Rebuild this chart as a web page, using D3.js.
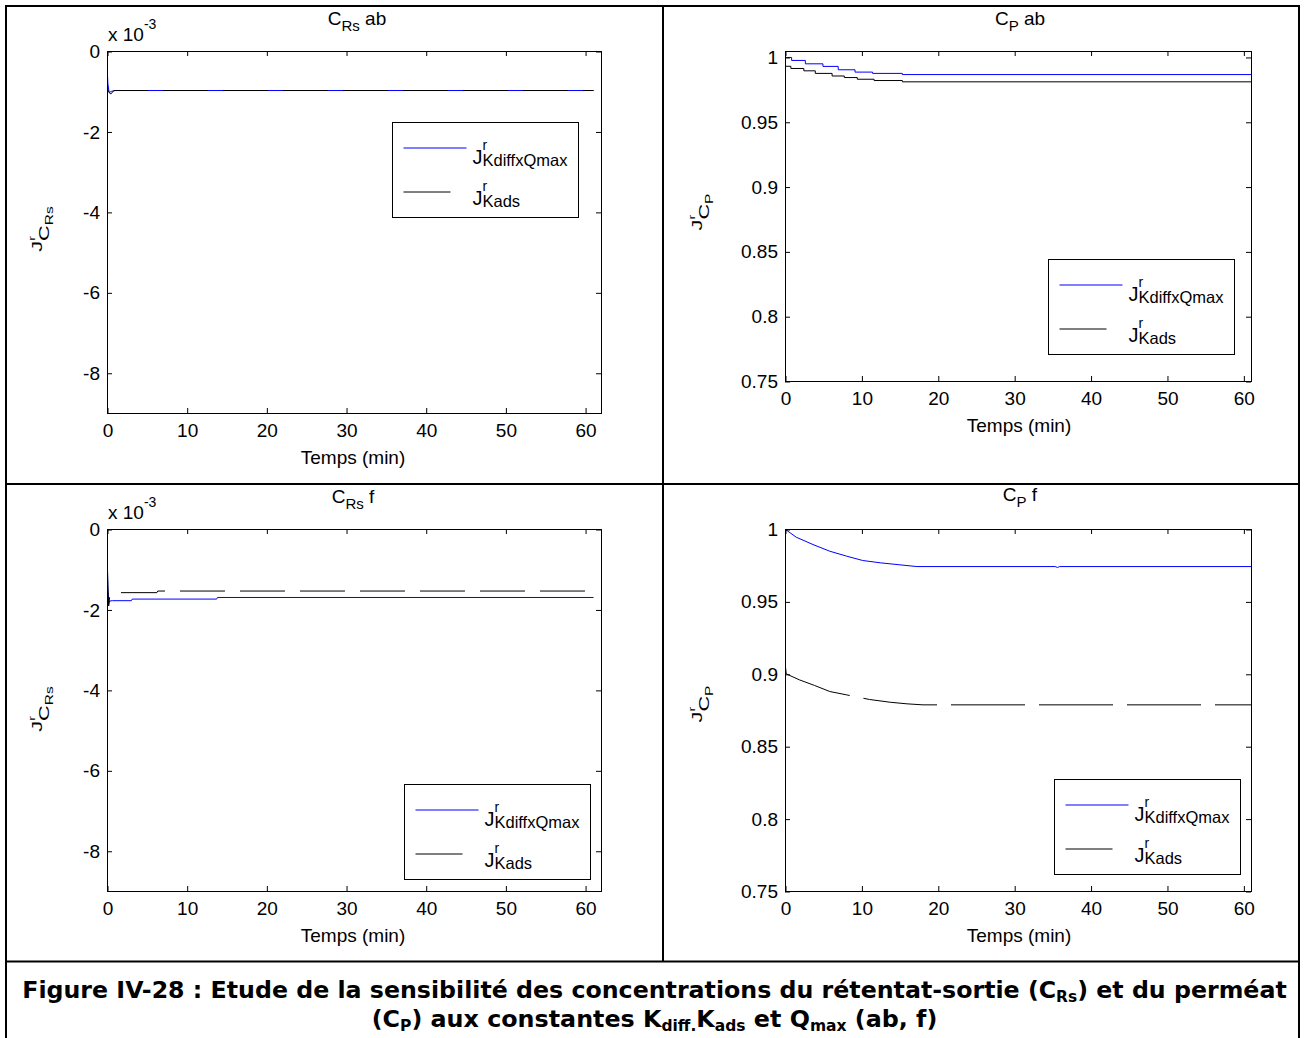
<!DOCTYPE html>
<html><head><meta charset="utf-8">
<script src="https://cdn.jsdelivr.net/npm/d3@7"></script>
<style>body{margin:0;background:#fff} svg{display:block}</style>
</head><body><svg id="c" width="1305" height="1038"></svg>
<script>
// ---------- tick values / labels ----------
const xTicks = [0, 10, 20, 30, 40, 50, 60];
const xTickLabels = ["0", "10", "20", "30", "40", "50", "60"];
const yTicksRs = [0, -2, -4, -6, -8];
const yTickLabelsRs = ["0", "-2", "-4", "-6", "-8"];
const yTicksP = [0.75, 0.8, 0.85, 0.9, 0.95, 1];
const yTickLabelsP = ["0.75", "0.8", "0.85", "0.9", "0.95", "1"];
const seriesNames = ["KdiffxQmax", "Kads"];

// ---------- C_Rs ab  (values x 10^-3) ----------
const rsAbBlueT  = [0, 0.05, 0.2, 0.5, 1.0, 61];
const rsAbBlueV  = [-0.6, -0.8, -1.02, -0.99, -0.97, -0.97];
const rsAbBlackT = [0, 0.15, 0.4, 0.8, 61];
const rsAbBlackV = [-0.93, -1.0, -1.06, -0.97, -0.97];

// ---------- C_P ab ----------
const pAbBlueT  = [0, 0.8, 2.6, 4.9, 6.9, 9.1, 11.4, 15.3, 61];
const pAbBlueV  = [1.0, 0.9977, 0.9951, 0.9931, 0.9905, 0.9887, 0.9877, 0.9868, 0.9868];
const pAbBlackT = [0, 0.7, 2.4, 3.9, 6.1, 7.7, 9.4, 11.6, 15.3, 61];
const pAbBlackV = [0.9932, 0.9915, 0.9897, 0.9877, 0.9857, 0.9845, 0.9832, 0.9822, 0.9812, 0.9812];

// ---------- C_Rs f  (values x 10^-3) ----------
const rsFBlueT  = [0, 0.05, 0.15, 0.25, 0.6, 3.0, 3.1, 13.7, 13.8, 61];
const rsFBlueV  = [-1.06, -1.5, -1.84, -1.78, -1.77, -1.77, -1.73, -1.73, -1.69, -1.69];
const rsFBlackT = [0, 0.05, 0.15, 0.3, 0.5, 0.6, 6.2, 6.3, 61];
const rsFBlackV = [-1.0, -1.4, -1.9, -1.62, -1.62, -1.57, -1.57, -1.53, -1.53];

// ---------- C_P f ----------
const pFBlueT  = [0, 1.4, 3.6, 5.8, 8.0, 10.1, 12.4, 14.6, 17.2, 35.3, 35.6, 35.9, 61];
const pFBlueV  = [1.0, 0.9947, 0.9896, 0.985, 0.9816, 0.9786, 0.977, 0.9758, 0.9744, 0.9744, 0.9738, 0.9744, 0.9744];
const pFBlackT = [0, 0.1, 1.8, 3.8, 5.8, 8.0, 11.0, 13.7, 15.9, 18.0, 61];
const pFBlackV = [0.9049, 0.9003, 0.8962, 0.8923, 0.8881, 0.8858, 0.8826, 0.8807, 0.8796, 0.8789, 0.8789];

const FONT = "'Liberation Sans', Arial, sans-serif";
const BLUE = "#0000ff";

const panels = [
  {x0:107.5, x1:601.5, y0:51.5, y1:413.5, xMax:62, yDom:[-9,0], yTicks:yTicksRs, yLabels:yTickLabelsRs, exp:{x:108,y:41},
   title:{x:357, y:25, sub:"Rs", rest:" ab"}, xlab:{x:353, y:464}, ylab:{x:42, y:229, sub:"Rs"}, legend:{x:392.5, y:122.5},
   lines:[{t:rsAbBlueT, v:rsAbBlueV, c:BLUE, dash:null, curve:d3.curveLinear},
          {t:rsAbBlackT, v:rsAbBlackV, c:"#000", dash:"45,15", curve:d3.curveLinear}]},
  {x0:785.5, x1:1251.5, y0:51.5, y1:381.5, xMax:61, yDom:[0.75,1.0046], yTicks:yTicksP, yLabels:yTickLabelsP, exp:null,
   title:{x:1020, y:25, sub:"P", rest:" ab"}, xlab:{x:1019, y:432}, ylab:{x:702, y:212, sub:"P"}, legend:{x:1048.5, y:259.5},
   lines:[{t:pAbBlueT, v:pAbBlueV, c:BLUE, dash:null, curve:d3.curveStepAfter},
          {t:pAbBlackT, v:pAbBlackV, c:"#000", dash:null, curve:d3.curveStepAfter}]},
  {x0:107.5, x1:601.5, y0:529.5, y1:891.5, xMax:62, yDom:[-9,0], yTicks:yTicksRs, yLabels:yTickLabelsRs, exp:{x:108,y:519},
   title:{x:353, y:503, sub:"Rs", rest:" f"}, xlab:{x:353, y:942}, ylab:{x:42, y:709, sub:"Rs"}, legend:{x:404.5, y:784.5},
   lines:[{t:rsFBlueT, v:rsFBlueV, c:BLUE, dash:null, curve:d3.curveLinear},
          {t:rsFBlackT, v:rsFBlackV, c:"#000", dash:"45,15", curve:d3.curveLinear}]},
  {x0:785.5, x1:1251.5, y0:529.5, y1:891.5, xMax:61, yDom:[0.75,1], yTicks:yTicksP, yLabels:yTickLabelsP, exp:null,
   title:{x:1020, y:501, sub:"P", rest:" f"}, xlab:{x:1019, y:942}, ylab:{x:702, y:704, sub:"P"}, legend:{x:1054.5, y:779.5},
   lines:[{t:pFBlueT, v:pFBlueV, c:BLUE, dash:null, curve:d3.curveLinear},
          {t:pFBlackT, v:pFBlackV, c:"#000", dash:"74,14", curve:d3.curveLinear}]}
];

const svg = d3.select("#c");
svg.append("rect").attr("width", 1305).attr("height", 1038).attr("fill", "#fff");

panels.forEach(p => {
  const x = d3.scaleLinear().domain([0, p.xMax]).range([p.x0, p.x1]);
  const y = d3.scaleLinear().domain(p.yDom).range([p.y1, p.y0]);
  const g = svg.append("g");

  p.lines.forEach(s => {
    const pts = s.t.map((t, i) => [t, s.v[i]]);
    g.append("path")
      .attr("d", d3.line().x(d => x(d[0])).y(d => y(d[1])).curve(s.curve)(pts))
      .attr("fill", "none").attr("stroke", s.c).attr("stroke-width", 1)
      .attr("stroke-dasharray", s.dash);
  });

  g.append("rect").attr("x", p.x0).attr("y", p.y0)
    .attr("width", p.x1 - p.x0).attr("height", p.y1 - p.y0)
    .attr("fill", "none").attr("stroke", "#000").attr("stroke-width", 1);

  const ax = (gen, tr) => {
    const a = g.append("g").attr("transform", tr).call(gen);
    a.select(".domain").remove();
    a.attr("font-family", FONT).attr("font-size", 19);
    a.selectAll("text").attr("fill", "#000");
    a.selectAll("line").attr("stroke", "#000");
    return a;
  };
  ax(d3.axisBottom(x).tickValues(xTicks).tickFormat((d, i) => xTickLabels[i]).tickSizeInner(-5).tickSizeOuter(0).tickPadding(11), `translate(0,${p.y1 - 0.5})`);
  ax(d3.axisTop(x).tickValues(xTicks).tickFormat("").tickSizeInner(-5).tickSizeOuter(0), `translate(0,${p.y0 - 0.5})`);
  ax(d3.axisLeft(y).tickValues(p.yTicks).tickFormat((d, i) => p.yLabels[i]).tickSizeInner(-5).tickSizeOuter(0).tickPadding(7), `translate(${p.x0 - 0.5},0)`);
  ax(d3.axisRight(y).tickValues(p.yTicks).tickFormat("").tickSizeInner(-5).tickSizeOuter(0), `translate(${p.x1 - 0.5},0)`);

  // exponent label
  if (p.exp) {
    const t = g.append("text").attr("x", p.exp.x).attr("y", p.exp.y)
      .attr("font-family", FONT).attr("font-size", 19).attr("fill", "#000");
    t.append("tspan").text("x 10");
    t.append("tspan").attr("font-size", 14).attr("dy", -12).text("-3");
  }

  // title
  const tt = g.append("text").attr("x", p.title.x).attr("y", p.title.y)
    .attr("text-anchor", "middle").attr("font-family", FONT).attr("font-size", 19).attr("fill", "#000");
  tt.append("tspan").text("C");
  tt.append("tspan").attr("font-size", 15).attr("dy", 6).text(p.title.sub);
  tt.append("tspan").attr("dy", -6).text(p.title.rest);

  // x label
  g.append("text").attr("x", p.xlab.x).attr("y", p.xlab.y).attr("text-anchor", "middle")
    .attr("font-family", FONT).attr("font-size", 19).attr("fill", "#000").text("Temps (min)");

  // y label
  const yl = g.append("g").attr("transform", `translate(${p.ylab.x},${p.ylab.y}) rotate(-90)`)
    .append("text").attr("transform", "scale(1.55,1)").attr("text-anchor", "middle")
    .attr("font-family", FONT).attr("font-size", 14).attr("fill", "#000");
  yl.append("tspan").text("J");
  yl.append("tspan").attr("font-size", 9).attr("dy", -7).text("r");
  yl.append("tspan").attr("dx", -3).attr("dy", 14).text("C");
  yl.append("tspan").attr("font-size", 10).attr("dy", 4).text(p.ylab.sub);

  // legend
  const L = p.legend;
  const lg = g.append("g").attr("transform", `translate(${L.x},${L.y})`);
  lg.append("rect").attr("width", 186).attr("height", 95).attr("fill", "#fff").attr("stroke", "#000");
  const rows = [{c: BLUE, x2: 74, ly: 25, ty: 41, name: seriesNames[0]},
                {c: "#000", x2: 58, ly: 69, ty: 82, name: seriesNames[1]}];
  rows.forEach(r => {
    lg.append("line").attr("x1", 11).attr("x2", r.x2).attr("y1", r.ly + 0.5).attr("y2", r.ly + 0.5)
      .attr("stroke", r.c).attr("stroke-width", 1);
    const t = lg.append("text").attr("x", 80).attr("y", r.ty).attr("font-family", FONT)
      .attr("font-size", 20).attr("fill", "#000");
    t.append("tspan").text("J");
    t.append("tspan").attr("font-size", 14).attr("dy", -14).text("r");
    t.append("tspan").attr("font-size", 16.5).attr("dx", -4.7).attr("dy", 16).text(r.name);
  });
});

// ---------- table frame ----------
const frame = svg.append("g").attr("stroke", "#000").attr("stroke-width", 2);
frame.append("line").attr("x1", 6).attr("x2", 6).attr("y1", 5).attr("y2", 1038);
frame.append("line").attr("x1", 1299).attr("x2", 1299).attr("y1", 5).attr("y2", 1038);
frame.append("line").attr("x1", 5).attr("x2", 1300).attr("y1", 6).attr("y2", 6);
frame.append("line").attr("x1", 5).attr("x2", 1300).attr("y1", 484).attr("y2", 484);
frame.append("line").attr("x1", 5).attr("x2", 1300).attr("y1", 961.5).attr("y2", 961.5);
frame.append("line").attr("x1", 663).attr("x2", 663).attr("y1", 5).attr("y2", 962);

// ---------- caption ----------
const capLines = [
  {y: 998, w: 1265, parts: [["Figure IV-28 : Etude de la sensibilité des concentrations du rétentat-sortie (C", 0], ["Rs", 1], [") et du perméat", 0]]},
  {y: 1027, w: 566, parts: [["(C", 0], ["P", 1], [") aux constantes K", 0], ["diff.", 1], ["K", 0], ["ads", 1], [" et Q", 0], ["max", 1], [" (ab, f)", 0]]}
];
capLines.forEach(cl => {
  const g = svg.append("g");
  const t = g.append("text").attr("x", 0).attr("y", 0).attr("text-anchor", "middle")
    .attr("font-family", "'DejaVu Sans', Verdana, sans-serif").attr("font-weight", "bold")
    .attr("font-size", 23).attr("fill", "#000");
  let prevSub = 0;
  cl.parts.forEach(([s, sub]) => {
    const ts = t.append("tspan").text(s);
    if (sub) ts.attr("font-size", 15);
    const dy = (sub ? 4 : 0) - (prevSub ? 4 : 0);
    if (dy) ts.attr("dy", dy);
    prevSub = sub;
  });
  const w = t.node().getComputedTextLength();
  g.attr("transform", `translate(654.5,${cl.y}) scale(${cl.w / w},1)`);
});
</script></body></html>
